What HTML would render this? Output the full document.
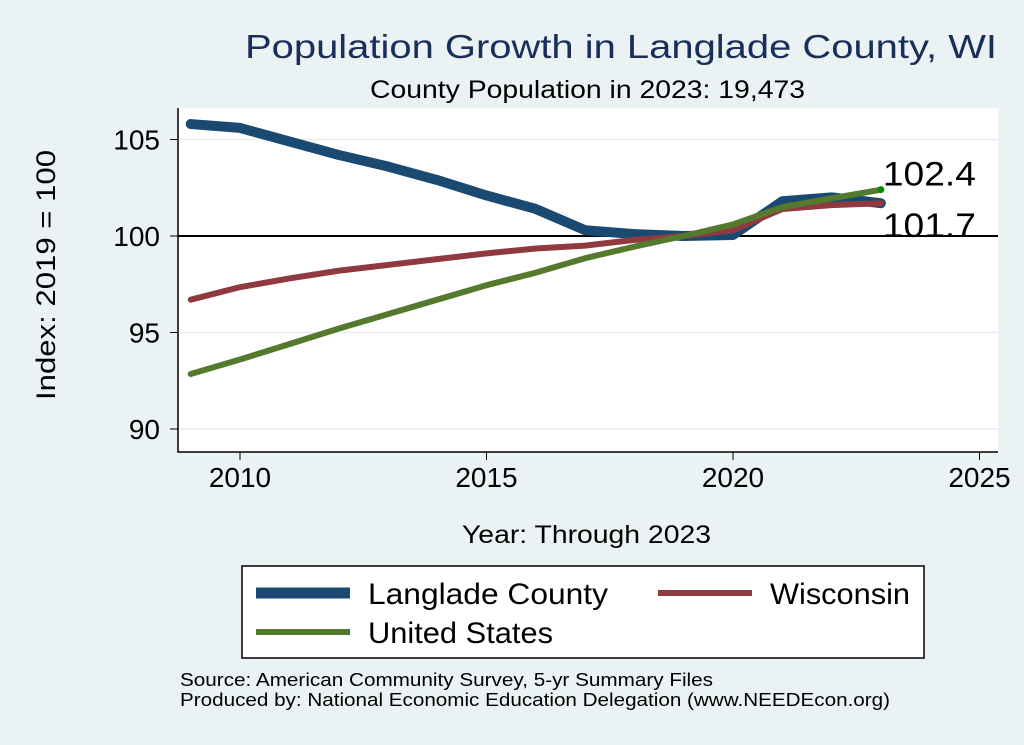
<!DOCTYPE html>
<html><head><meta charset="utf-8"><style>
body{margin:0;background:#eaf2f3;font-family:"Liberation Sans",sans-serif}
svg{display:block}
</style></head><body>
<svg id="c" width="1024" height="745">
<rect x="0" y="0" width="1024" height="745" fill="#eaf2f3"/>
<text x="245" y="58" font-size="33" fill="#1a2e5a" textLength="752" lengthAdjust="spacingAndGlyphs">Population Growth in Langlade County, WI</text>
<text x="370" y="98" font-size="25" fill="#000" textLength="435" lengthAdjust="spacingAndGlyphs">County Population in 2023: 19,473</text>
<rect x="178" y="108" width="820" height="344" fill="#fff"/>
<g id="grid"></g>
<g id="series"></g>
<g id="axes"></g>
<text x="55" y="275" font-size="27" text-anchor="middle" textLength="250" lengthAdjust="spacingAndGlyphs" transform="rotate(-90 55 275)">Index: 2019 = 100</text>
<text x="462" y="543" font-size="25" textLength="249" lengthAdjust="spacingAndGlyphs">Year: Through 2023</text>
<g>
<rect x="242" y="566" width="682" height="92" fill="#fff" stroke="#000" stroke-width="1.5"/>
<line x1="256" y1="593" x2="350" y2="593" stroke="#1a4a72" stroke-width="11"/>
<text x="368" y="604" font-size="30" textLength="240" lengthAdjust="spacingAndGlyphs">Langlade  County</text>
<line x1="658" y1="593" x2="752" y2="593" stroke="#903a40" stroke-width="6"/>
<text x="770" y="604" font-size="30" textLength="140" lengthAdjust="spacingAndGlyphs">Wisconsin</text>
<line x1="256" y1="632" x2="350" y2="632" stroke="#557a2e" stroke-width="6"/>
<text x="368" y="643" font-size="30" textLength="185" lengthAdjust="spacingAndGlyphs">United States</text>
</g>
<text x="180" y="686" font-size="18" textLength="533" lengthAdjust="spacingAndGlyphs">Source: American Community Survey, 5-yr Summary Files</text>
<text x="180" y="706" font-size="18" textLength="710" lengthAdjust="spacingAndGlyphs">Produced by: National Economic Education Delegation (www.NEEDEcon.org)</text>
</svg>
<script>
const years=[2009,2010,2011,2012,2013,2014,2015,2016,2017,2018,2019,2020,2021,2022,2023];
const langlade=[105.8,105.6,104.9,104.2,103.6,102.9,102.1,101.4,100.3,100.1,100,100.05,101.8,102.0,101.7];
const wisconsin=[96.7,97.35,97.8,98.2,98.5,98.8,99.1,99.35,99.5,99.8,100,100.3,101.4,101.6,101.7];
const us=[92.85,93.6,94.4,95.2,95.95,96.7,97.45,98.1,98.85,99.45,100,100.6,101.5,101.95,102.4];
const xTicks=[2010,2015,2020,2025];
const yTicks=[90,95,100,105];
const NS="http://www.w3.org/2000/svg";
const X=v=>240+(v-2010)*49.3;
const Y=v=>236-(v-100)*19.3;
function mk(tag,attrs,parent){const e=document.createElementNS(NS,tag);for(const k in attrs)e.setAttribute(k,attrs[k]);document.getElementById(parent).appendChild(e);return e;}
yTicks.forEach(t=>{
 if(t!==100){const g=mk('line',{x1:178,x2:998,y1:Y(t),y2:Y(t),stroke:'#e8eef0','stroke-width':1.5},'grid');
 
 }
 const tk=mk('line',{x1:170,x2:178,y1:Y(t),y2:Y(t),stroke:'#000'},'axes');
 
 
 const tx=mk('text',{x:160,y:Y(t)+10,'font-size':28,'text-anchor':'end'},'axes');tx.textContent=t;
 
 
});
const ref=mk('line',{x1:178,x2:998,y1:Y(100),y2:Y(100),stroke:'#000','stroke-width':2},'grid');


xTicks.forEach(t=>{
 const tk=mk('line',{x1:X(t),x2:X(t),y1:452,y2:460,stroke:'#000'},'axes');
 
 
 const tx=mk('text',{x:X(t),y:487,'font-size':28,'text-anchor':'middle'},'axes');tx.textContent=t;
 
 
});
const ax=mk('path',{d:'M178 108 V452 H998',fill:'none',stroke:'#000','stroke-width':1.5},'axes');


function line(vals,color,w,name){
 const p=mk('polyline',{points:vals.map((v,i)=>X(years[i])+','+Y(v)).join(' '),fill:'none',stroke:color,'stroke-width':w,'stroke-linejoin':'round','stroke-linecap':'round'},'series');
 
 
}
line(langlade,'#1a4a72',10,'line-langlade');
line(wisconsin,'#903a40',6,'line-wisconsin');
line(us,'#557a2e',6,'line-us');
const last=years.length-1;
const d=mk('circle',{cx:X(years[last]),cy:Y(us[last]),r:3.5,fill:'#0a8a0a'},'series');


const l1=mk('text',{x:X(years[last])+2,y:Y(us[last])-4,'font-size':34,textLength:93,lengthAdjust:'spacingAndGlyphs'},'series');l1.textContent=us[last].toFixed(1);


const l2=mk('text',{x:X(years[last])+2,y:Y(wisconsin[last])+34,'font-size':34,textLength:93,lengthAdjust:'spacingAndGlyphs'},'series');l2.textContent=wisconsin[last].toFixed(1);


</script>
</body></html>
